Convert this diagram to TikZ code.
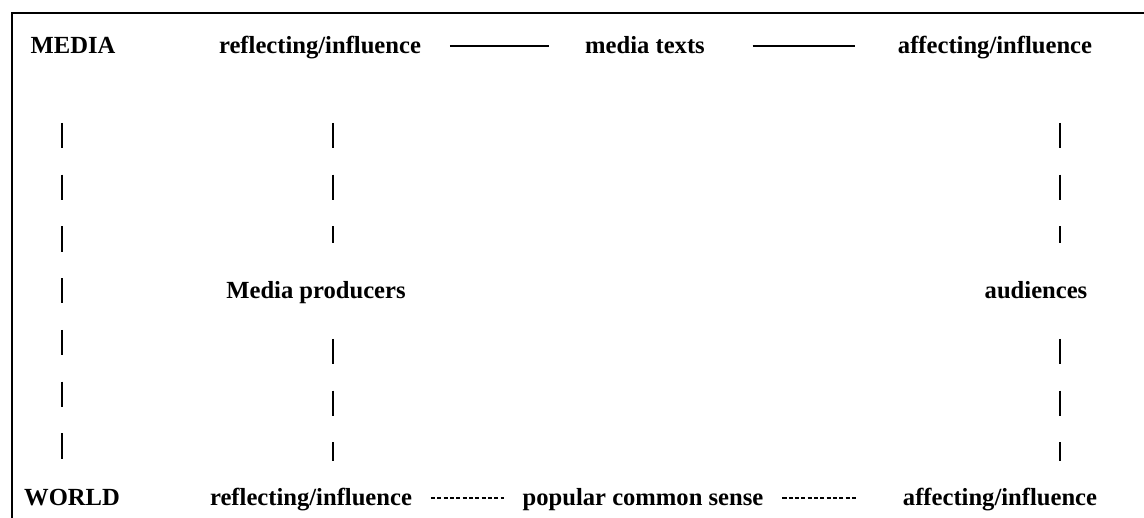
\documentclass[tikz,border=0pt]{standalone}
\usepackage{fontspec}
\setmainfont{Liberation Serif}
\begin{document}
\begin{tikzpicture}[x=0.025cm,y=-0.025cm,
  lbl/.style={font=\fontsize{17.5}{20}\selectfont\bfseries,text height=13pt,text depth=3pt},
  gapbox/.style={lbl,minimum height=2.375cm},
  vline/.style={line width=1.3pt,dash pattern=on 17.8pt off 19pt},
  topline/.style={line width=1.1pt},
  botline/.style={line width=1.1pt,dash pattern=on 3pt off 1.5pt}]
  \useasboundingbox (0,0) rectangle (1144,518);
  \draw[line width=1.3pt] (12,518) -- (12,13) -- (1144,13);
  % top row
  \node[lbl] (media) at (73,46) {MEDIA};
  \node[lbl] (refla) at (320,46) {reflecting/influence};
  \node[lbl] (texts) at (645,46) {media texts};
  \node[lbl] (affa) at (995,46) {affecting/influence};
  % middle row
  \node[gapbox] (prod) at (316,291) {Media producers};
  \node[gapbox] (aud) at (1036,291) {audiences};
  % bottom row
  \node[lbl] (world) at (72,498) {WORLD};
  \node[lbl] (reflb) at (311,498) {reflecting/influence};
  \node[lbl] (sense) at (643,498) {popular common sense};
  \node[lbl] (affb) at (1000,498) {affecting/influence};
  \draw[topline,shorten <=0.6cm,shorten >=0.78cm] (refla)--(texts);
  \draw[topline,shorten <=1.07cm,shorten >=0.95cm] (texts)--(affa);
  \draw[botline,shorten <=0.35cm,shorten >=0.35cm] (reflb)--(sense);
  \draw[botline,shorten <=0.35cm,shorten >=1cm] (sense)--(affb);
  % vertical links
  \coordinate (l1) at (62,123); \coordinate (l2) at (62,461);
  \coordinate (p1) at (333,123); \coordinate (p2) at (333,461);
  \coordinate (a1) at (1060,123); \coordinate (a2) at (1060,461);
  \draw[vline] (l1)--(l2);
  \draw[vline] (p1)--(p1|-prod.north); \draw[vline] (p1|-prod.south)--(p2);
  \draw[vline] (a1)--(a1|-aud.north); \draw[vline] (a1|-aud.south)--(a2);
\end{tikzpicture}
\end{document}
